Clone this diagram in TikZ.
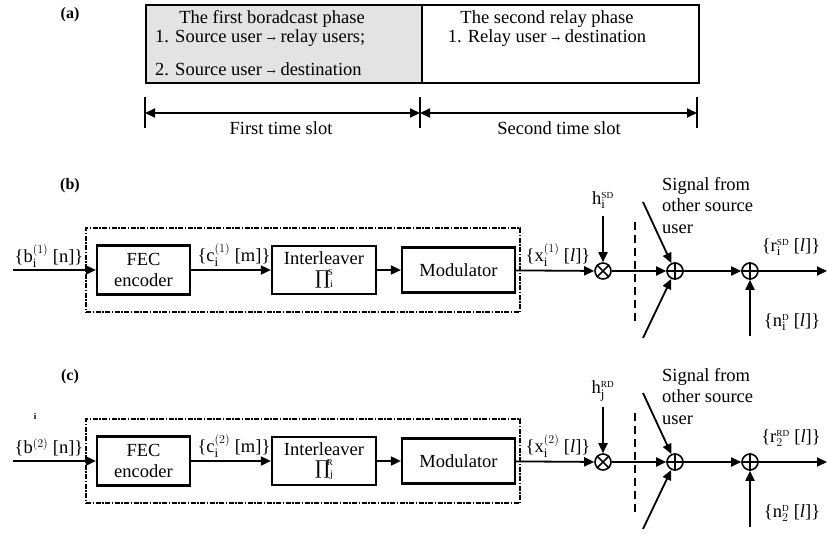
\documentclass[tikz,border=0pt]{standalone}
\usepackage{fontspec}
\setmainfont{Liberation Serif}
\newfontfamily\symfont{DejaVu Serif}
\usetikzlibrary{arrows.meta}
\newcommand\bigprod[2]{{\symfont\fontsize{19}{19}\selectfont ∏}\raisebox{-3pt}{\fontsize{10}{10}\selectfont #1}\llap{\raisebox{9pt}{\fontsize{9}{9}\selectfont #2}}}
\newcommand\smarrow{{\symfont\fontsize{11}{11}\selectfont →}}
\newcommand\drawchain[9]{%
  \node[blk, minimum width=93pt, minimum height=49pt] (fec#1) at (143.5,270) {FEC\\encoder};
  \node[blk, minimum width=104pt, minimum height=48pt] (int#1) at (324,270) {Interleaver\\[-2pt]#3};
  \node[blk, minimum width=113pt, minimum height=45pt] (mod#1) at (458.5,270) {Modulator};
  \node[encbox, minimum width=434pt, minimum height=84pt] (enc#1) at (303,270) {};
  \coordinate (in#1) at (13,270);
  \draw[arr] (in#1) -- (fec#1);
  \draw[arr] (fec#1) -- (int#1);
  \draw[arr] (int#1) -- (mod#1);
  \node (bl#1) at (49,256) {#2};
  \node (cl#1) at (234,255) {#4};
  \node (xl#1) at (558,255) {#5};
  \node[mulnode] (mul#1) at (603,271) {};
  \draw[wire] (mul#1.north west) -- (mul#1.south east) (mul#1.north east) -- (mul#1.south west);
  \draw[arr] (mod#1) -- (mul#1);
  \node (hl#1) at (603,200) {#6};
  \coordinate (hs#1) at (603,216);
  \draw[arr] (hs#1) -- (mul#1);
  \coordinate (da#1) at (635,222);
  \coordinate (db#1) at (635,325);
  \draw[vdash] (da#1) -- (db#1);
  \node[mulnode] (adda#1) at (675,271) {};
  \draw[wire] (adda#1.north) -- (adda#1.south) (adda#1.west) -- (adda#1.east);
  \draw[arr] (mul#1) -- (adda#1);
  \coordinate (sa#1) at (643,202);
  \coordinate (sb#1) at (643,338);
  \draw[arr] (sa#1) -- (adda#1);
  \draw[arr] (sb#1) -- (adda#1);
  \node[align=left, anchor=north west] (sig#1) at (662,177) {Signal from\\other source\\user};
  \node[mulnode] (addb#1) at (750,271) {};
  \draw[wire] (addb#1.north) -- (addb#1.south) (addb#1.west) -- (addb#1.east);
  \draw[arr] (adda#1) -- (addb#1);
  \coordinate (out#1) at (827,271);
  \draw[arr] (addb#1) -- (out#1);
  \node (rl#1) at (791,247) {#7};
  \coordinate (ns#1) at (750,336);
  \draw[arr] (ns#1) -- (addb#1);
  \node (nl#1) at (792,322) {#8};
  \node[labfont] (lab#1) at (70,186) {#9};
}
\begin{document}
\begin{tikzpicture}[x=1pt,y=-1pt,
  every node/.style={font=\fontsize{18.5}{21.5}\selectfont, inner sep=0pt},
  labfont/.style={font=\fontsize{16}{18}\selectfont\bfseries},
  blk/.style={draw, line width=2.2pt, align=center},
  encbox/.style={draw, line width=1.4pt, dash pattern=on 5pt off 1.5pt on 1.5pt off 1.5pt},
  wire/.style={line width=1.6pt},
  vdash/.style={line width=1.6pt, dash pattern=on 8pt off 5pt},
  arr/.style={line width=1.8pt, -{Triangle[length=10pt,width=9pt]}},
  dblarr/.style={line width=1.8pt, {Triangle[length=10pt,width=9pt]}-{Triangle[length=10pt,width=9pt]}},
  mulnode/.style={circle, draw, line width=1.6pt, minimum size=16pt},
]
\useasboundingbox (0,0) rectangle (827,533);
% ---------- (a)
\node[labfont] (laba) at (70,15) {(a)};
\node[draw, line width=2.2pt, fill=gray!22, minimum width=276pt, minimum height=78pt, anchor=north west] (ph1) at (145,4) {};
\node[draw, line width=2.2pt, minimum width=277pt, minimum height=78pt, anchor=north west] (ph2) at (421,4) {};
\node (p1a) at (272,19) {The first boradcast phase};
\node[anchor=west] (p1b) at (155,38) {1. Source user \smarrow{} relay users;};
\node[anchor=west] (p1c) at (155,69) {2. Source user \smarrow{} destination};
\node (p2a) at (547,19) {The second relay phase};
\node (p2b) at (547,38) {1. Relay user \smarrow{} destination};
\coordinate (ta) at (145,97); \coordinate (tb) at (145,128);
\coordinate (tc) at (420,97); \coordinate (td) at (420,128);
\coordinate (te) at (697,97); \coordinate (tf) at (697,128);
\draw[wire] (ta) -- (tb) (tc) -- (td) (te) -- (tf);
\coordinate (ma) at (145,113); \coordinate (mb) at (420,113); \coordinate (mc) at (697,113);
\draw[dblarr] (ma) -- (mb);
\draw[dblarr] (mb) -- (mc);
\node (ts1) at (281,128) {First time slot};
\node (ts2) at (559,128) {Second time slot};
% ---------- (b)
\drawchain{b}{\{b$_\mathrm{i}^{(1)}$ [n]\}}{\bigprod{i}{S}}{\{c$_\mathrm{i}^{(1)}$ [m]\}}{\{x$_\mathrm{i}^{(1)}$ [\textit{l}]\}}{h$_\mathrm{i}^{\scriptscriptstyle\mathrm{SD}}$}{\{r$_\mathrm{i}^{\scriptscriptstyle\mathrm{SD}}$ [\textit{l}]\}}{\{n$_\mathrm{i}^{\scriptscriptstyle\mathrm{D}}$ [\textit{l}]\}}{(b)}
% ---------- (c)
\begin{scope}[yshift=-191pt]
\drawchain{c}{\{b$^{(2)}$ [n]\}}{\bigprod{j}{R}}{\{c$_\mathrm{i}^{(2)}$ [m]\}}{\{x$_\mathrm{i}^{(2)}$ [\textit{l}]\}}{h$_\mathrm{j}^{\scriptscriptstyle\mathrm{RD}}$}{\{r$_2^{\scriptscriptstyle\mathrm{RD}}$ [\textit{l}]\}}{\{n$_2^{\scriptscriptstyle\mathrm{D}}$ [\textit{l}]\}}{(c)}
\end{scope}
\node[font=\fontsize{9}{10}\selectfont\bfseries] (stray) at (35,416) {i};
\end{tikzpicture}
\end{document}
